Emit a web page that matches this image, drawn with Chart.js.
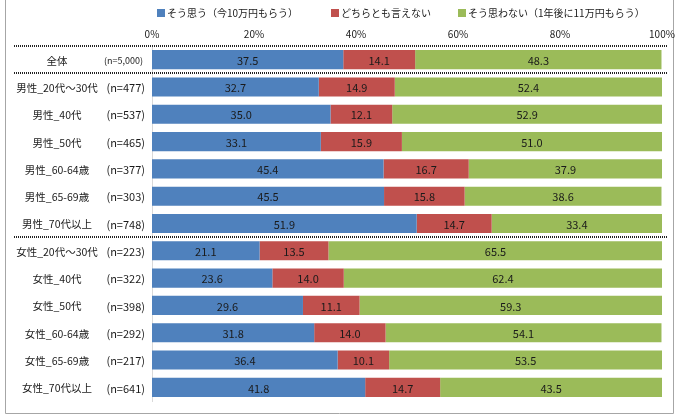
<!DOCTYPE html>
<html>
<head>
<meta charset="utf-8">
<script src="https://cdn.jsdelivr.net/npm/chart.js@4.4.1/dist/chart.umd.min.js"></script>
<style>
  html, body { margin: 0; padding: 0; background: #fff; }
  #wrap { position: relative; width: 675px; height: 420px; }
</style>
</head>
<body>
<div id="wrap"><canvas id="grafico"></canvas></div>
<script>
const grupos = ['全体', '男性_20代～30代', '男性_40代', '男性_50代', '男性_60-64歳', '男性_65-69歳', '男性_70代以上',
  '女性_20代～30代', '女性_40代', '女性_50代', '女性_60-64歳', '女性_65-69歳', '女性_70代以上'];
const muestras = ['(n=5,000)', '(n=477)', '(n=537)', '(n=465)', '(n=377)', '(n=303)', '(n=748)',
  '(n=223)', '(n=322)', '(n=398)', '(n=292)', '(n=217)', '(n=641)'];
const series = ['そう思う（今10万円もらう）', 'どちらとも言えない', 'そう思わない（1年後に11万円もらう）'];
const soOmou = [37.5, 32.7, 35.0, 33.1, 45.4, 45.5, 51.9, 21.1, 23.6, 29.6, 31.8, 36.4, 41.8];
const dochira = [14.1, 14.9, 12.1, 15.9, 16.7, 15.8, 14.7, 13.5, 14.0, 11.1, 14.0, 10.1, 14.7];
const omowanai = [48.3, 52.4, 52.9, 51.0, 37.9, 38.6, 33.4, 65.5, 62.4, 59.3, 54.1, 53.5, 43.5];
const colores = ['#4f81bd', '#c0504d', '#9bbb59'];
const separadores = [1, 7]; // lineas punteadas antes de estas filas

const fuente = '"Noto Sans CJK JP", "Noto Sans", sans-serif';

const extras = {
  id: 'extras',
  beforeDraw(chart) {
    const ctx = chart.ctx;
    ctx.save();
    ctx.strokeStyle = '#a6a6a6';
    ctx.lineWidth = 1;
    ctx.beginPath();
    ctx.moveTo(5.5, 0); ctx.lineTo(5.5, 413.5); ctx.lineTo(673.5, 413.5); ctx.lineTo(673.5, 0);
    ctx.stroke();
    ctx.restore();
  },
  afterDatasetsDraw(chart) {
    const ctx = chart.ctx;
    const ys = chart.scales.y;
    const area = chart.chartArea;
    ctx.save();
    // valores
    ctx.font = '11px ' + fuente;
    ctx.fillStyle = '#1a1a1a';
    ctx.textAlign = 'center';
    ctx.textBaseline = 'middle';
    chart.data.datasets.forEach((ds, i) => {
      chart.getDatasetMeta(i).data.forEach((el, j) => {
        ctx.fillText(ds.data[j].toFixed(1), (el.x + el.base) / 2, el.y + 1);
      });
    });
    // etiquetas de categoria
    grupos.forEach((g, j) => {
      const y = ys.getPixelForValue(j) + 1;
      ctx.font = '10.5px ' + fuente;
      ctx.textAlign = 'center';
      ctx.fillText(g, 57, y);
      ctx.textAlign = 'right';
      ctx.font = (j === 0 ? '9px ' : '11px ') + fuente;
      ctx.fillText(muestras[j], j === 0 ? 143 : 145, y);
    });
    // separadores punteados
    ctx.strokeStyle = '#222';
    ctx.lineWidth = 2;
    ctx.setLineDash([1, 1]);
    const lineas = [area.top].concat(separadores.map(k => (ys.getPixelForValue(k - 1) + ys.getPixelForValue(k)) / 2));
    lineas.forEach(y => {
      ctx.beginPath();
      ctx.moveTo(14, Math.round(y));
      ctx.lineTo(668, Math.round(y));
      ctx.stroke();
    });
    ctx.setLineDash([]);
    // leyenda
    ctx.font = '10px ' + fuente;
    ctx.textAlign = 'left';
    const xs = [157, 331, 458];
    series.forEach((s, i) => {
      ctx.fillStyle = colores[i];
      ctx.fillRect(xs[i], 9, 8, 8);
      ctx.fillStyle = '#1a1a1a';
      ctx.fillText(s, xs[i] + 10, 13);
    });
    ctx.restore();
  }
};

new Chart(document.getElementById('grafico'), {
  type: 'bar',
  data: {
    labels: grupos,
    datasets: [
      { label: series[0], data: soOmou, backgroundColor: colores[0] },
      { label: series[1], data: dochira, backgroundColor: colores[1] },
      { label: series[2], data: omowanai, backgroundColor: colores[2] }
    ]
  },
  options: {
    indexAxis: 'y',
    responsive: true,
    maintainAspectRatio: false,
    animation: false,
    layout: { padding: { top: 20, right: 0, bottom: 19, left: 0 } },
    datasets: { bar: { barPercentage: 0.7, categoryPercentage: 1 } },
    plugins: { legend: { display: false }, tooltip: { enabled: false } },
    scales: {
      x: {
        position: 'top', stacked: true, min: 0, max: 100,
        grid: { display: false }, border: { display: false },
        afterFit: s => { s.height = 26; s.paddingRight = 13; },
        ticks: { stepSize: 20, padding: -2, color: '#1a1a1a', font: { size: 10, family: fuente }, callback: v => v + '%' }
      },
      y: {
        stacked: true,
        grid: { display: false },
        border: { display: true, color: '#d9d9d9' },
        ticks: { display: false },
        afterFit: s => { s.width = 152; }
      }
    }
  },
  plugins: [extras]
});
</script>
</body>
</html>
